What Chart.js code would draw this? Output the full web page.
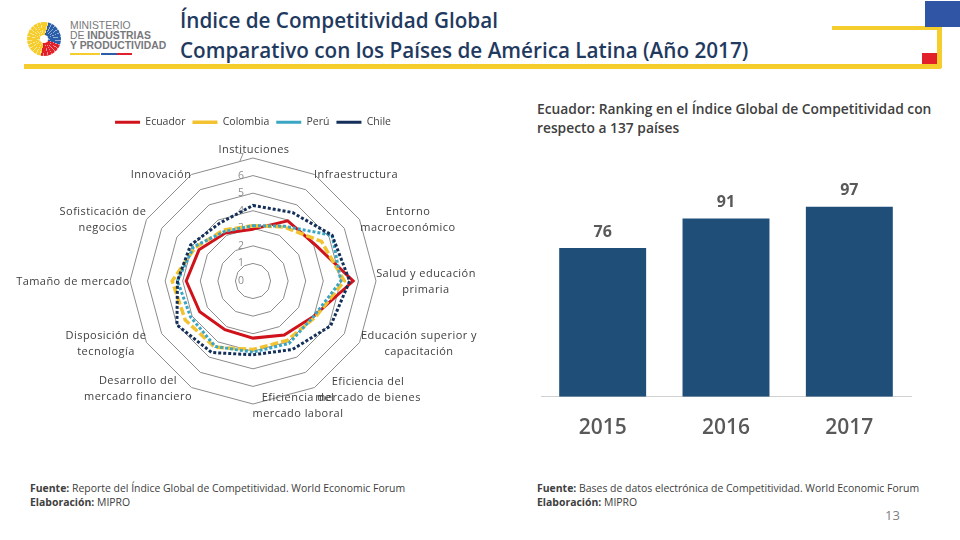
<!DOCTYPE html>
<html lang="es">
<head>
<meta charset="utf-8">
<title>Índice de Competitividad Global</title>
<script src="https://cdn.jsdelivr.net/npm/chart.js@4"></script>
<style>
  html, body { margin: 0; padding: 0; background: #fff; }
  #page { position: relative; width: 960px; height: 540px; overflow: hidden; font-family: "Open Sans", sans-serif; }
  #page canvas { position: absolute; }
  .deco { position: absolute; }
  .txt { position: absolute; white-space: nowrap; }
  .rlabel { position: absolute; transform: translate(-50%, -50%); text-align: center; white-space: nowrap; font-size: 11px; line-height: 16px; letter-spacing: .45px; color: #404040; }
  .title { left: 180px; top: 6px; font-size: 20.7px; line-height: 29.5px; font-weight: 600; color: #1f3a5f; }
  .subhead { left: 537px; top: 99px; font-size: 13.8px; line-height: 19px; font-weight: 600; color: #404040; }
  .source { font-size: 10.45px; line-height: 14px; color: #404040; }
  .logo { left: 70px; top: 21px; font-family: "Liberation Sans", sans-serif; font-size: 10.4px; line-height: 10.2px; color: #77787b; }
</style>
</head>
<body>
<div id="page">
  <div class="deco" style="left:24px;top:64px;width:917px;height:5px;background:#f5cd2d"></div>
  <div class="deco" style="left:937px;top:26px;width:5px;height:42px;background:#f5cd2d"></div>
  <div class="deco" style="left:832px;top:26px;width:110px;height:4px;background:#f5cd2d"></div>
  <div class="deco" style="left:925px;top:1px;width:35px;height:26px;background:#2f55a4"></div>
  <div class="deco" style="left:922px;top:53px;width:15px;height:11px;background:#e1202a"></div>
  <div class="deco" style="left:27px;top:22px;width:34px;height:34px;border-radius:50%;background:repeating-conic-gradient(transparent 0 11deg,rgba(255,255,255,.5) 11deg 14deg),conic-gradient(#f5cd2d 0 15deg,#2a5ea8 15deg 110deg,#e1202a 110deg 190deg,#f5cd2d 190deg 360deg)"></div>
  <div class="deco" style="left:40px;top:35px;width:8px;height:8px;border-radius:50%;background:#fff"></div>
  <div class="txt logo">MINISTERIO<br>DE <b>INDUSTRIAS</b><br><b>Y PRODUCTIVIDAD</b></div>
  <div class="deco" style="left:70px;top:53px;width:30px;height:2px;background:#f5cd2d"></div>
  <div class="deco" style="left:101px;top:53px;width:16px;height:2px;background:#2a5ea8"></div>
  <div class="deco" style="left:117px;top:53px;width:15px;height:2px;background:#e1202a"></div>

  <div class="txt title">Índice de Competitividad Global<br>Comparativo con los Países de América Latina (Año 2017)</div>
  <div class="txt subhead">Ecuador: Ranking en el Índice Global de Competitividad con<br>respecto a 137 países</div>

  <canvas id="radarChart" width="506" height="295" style="left:0;top:110px"></canvas>
  <canvas id="barChart" width="390" height="282" style="left:530px;top:170px"></canvas>

  <div class="txt source" style="left:30px;top:481px"><b>Fuente:</b> Reporte del Índice Global de Competitividad. World Economic Forum<br><b>Elaboración:</b> MIPRO</div>
  <div class="txt source" style="left:537px;top:481px"><b>Fuente:</b> Bases de datos electrónica de Competitividad. World Economic Forum<br><b>Elaboración:</b> MIPRO</div>
  <div class="txt" style="left:885px;top:506px;font-size:13px;color:#7f7f7f">13</div>
</div>

<script>
// Radar data
const pillars = [
  ['Instituciones'],
  ['Infraestructura'],
  ['Entorno', 'macroeconómico'],
  ['Salud y educación', 'primaria'],
  ['Educación superior y', 'capacitación'],
  ['Eficiencia del', 'mercado de bienes'],
  ['Eficiencia del', 'mercado laboral'],
  ['Desarrollo del', 'mercado financiero'],
  ['Disposición de', 'tecnología'],
  ['Tamaño de mercado'],
  ['Sofisticación de', 'negocios'],
  ['Innovación']
];
const ecuador = [2.95, 3.95, 4.1, 5.7, 4.0, 3.55, 3.25, 3.2, 3.5, 3.8, 3.55, 3.15];
const colombia = [3.15, 3.55, 4.5, 5.2, 4.1, 3.9, 3.9, 4.35, 4.45, 4.6, 3.8, 3.35];
const peru = [3.15, 3.6, 5.2, 5.0, 4.0, 4.1, 4.05, 4.3, 4.1, 4.3, 3.9, 3.25];
const chile = [4.3, 4.5, 5.2, 5.5, 5.1, 4.5, 4.2, 4.7, 5.0, 4.3, 4.1, 3.8];
const radarTicks = [0, 1, 2, 3, 4, 5, 6, 7];

// Bar data
const years = ['2015', '2016', '2017'];
const ranking = [76, 91, 97];

// where each pillar name sits on the page (center x, center y)
const labelSpots = [
  [254, 149], [356, 174], [408, 219], [426, 281], [419, 343], [368, 389],
  [298, 405], [138, 388], [106, 343], [73, 281], [103, 219], [161, 174]
];

const page = document.getElementById('page');
pillars.forEach((lines, i) => {
  const el = document.createElement('div');
  el.className = 'rlabel';
  el.style.left = labelSpots[i][0] + 'px';
  el.style.top = labelSpots[i][1] + 'px';
  el.innerHTML = lines.join('<br>');
  page.appendChild(el);
});

// legend sits higher than the radar, so give it extra room underneath
const legendGap = {
  id: 'legendGap',
  beforeInit(chart) {
    const fit = chart.legend.fit;
    chart.legend.fit = function () {
      fit.call(this);
      this.height += 21;
    };
  }
};

// tick numbers are to the left of the axis in the reference
const radarTickLabels = {
  id: 'radarTickLabels',
  beforeDatasetsDraw(chart) {
    const scale = chart.scales.r;
    const ctx = chart.ctx;
    ctx.save();
    ctx.font = '10.5px "Open Sans"';
    ctx.fillStyle = '#8c8c8c';
    ctx.textAlign = 'center';
    ctx.textBaseline = 'middle';
    radarTicks.forEach((t) => {
      ctx.fillText(String(t), scale.xCenter - 12, scale.yCenter - scale.getDistanceFromCenterForValue(t));
    });
    ctx.restore();
  }
};

new Chart(document.getElementById('radarChart'), {
  type: 'radar',
  data: {
    labels: pillars,
    datasets: [
      { label: 'Ecuador', data: ecuador, borderColor: '#d0121b', backgroundColor: 'transparent', borderWidth: 3, order: 4 },
      { label: 'Colombia', data: colombia, borderColor: '#f2c230', backgroundColor: 'transparent', borderWidth: 3.5, borderDash: [8, 3], order: 3 },
      { label: 'Perú', data: peru, borderColor: '#3aa6c4', backgroundColor: 'transparent', borderWidth: 3, borderDash: [3, 2], order: 2 },
      { label: 'Chile', data: chile, borderColor: '#14305a', backgroundColor: 'transparent', borderWidth: 3, borderDash: [3, 2], order: 1 }
    ]
  },
  options: {
    responsive: false,
    animation: false,
    elements: { point: { radius: 0 }, line: { tension: 0 } },
    layout: { padding: 0 },
    plugins: {
      tooltip: { enabled: false },
      legend: {
        position: 'top',
        labels: {
          usePointStyle: true,
          pointStyle: 'line',
          pointStyleWidth: 25,
          boxHeight: 5,
          padding: 7,
          color: '#404040',
          font: { family: 'Open Sans', size: 10.5 },
          sort: (a, b) => a.datasetIndex - b.datasetIndex
        }
      }
    },
    scales: {
      r: {
        min: 0,
        max: 7,
        ticks: { display: false, stepSize: 1 },
        pointLabels: { display: false },
        grid: { color: '#8c8c8c', lineWidth: 1 },
        angleLines: { display: false }
      }
    }
  },
  plugins: [legendGap, radarTickLabels]
});

// value labels over the bars
const barValues = {
  id: 'barValues',
  afterDatasetsDraw(chart) {
    const ctx = chart.ctx;
    ctx.save();
    ctx.font = '700 16px "Open Sans"';
    ctx.fillStyle = '#595959';
    ctx.textAlign = 'center';
    ctx.textBaseline = 'middle';
    chart.getDatasetMeta(0).data.forEach((bar, i) => {
      ctx.fillText(String(ranking[i]), bar.x, bar.y - 16);
    });
    ctx.restore();
  }
};

new Chart(document.getElementById('barChart'), {
  type: 'bar',
  data: {
    labels: years,
    datasets: [{ data: ranking, backgroundColor: '#1f4e79', categoryPercentage: 1, barPercentage: 0.705 }]
  },
  options: {
    responsive: false,
    animation: false,
    layout: { padding: { left: 11, right: 9, top: 31 } },
    plugins: { legend: { display: false }, tooltip: { enabled: false } },
    scales: {
      x: {
        grid: { display: false },
        border: { color: '#d0d0d0' },
        ticks: { color: '#595959', font: { family: 'Open Sans', size: 21, weight: '600' }, padding: 11 }
      },
      y: { display: false, min: 0, max: 100 }
    }
  },
  plugins: [barValues]
});
</script>
</body>
</html>
